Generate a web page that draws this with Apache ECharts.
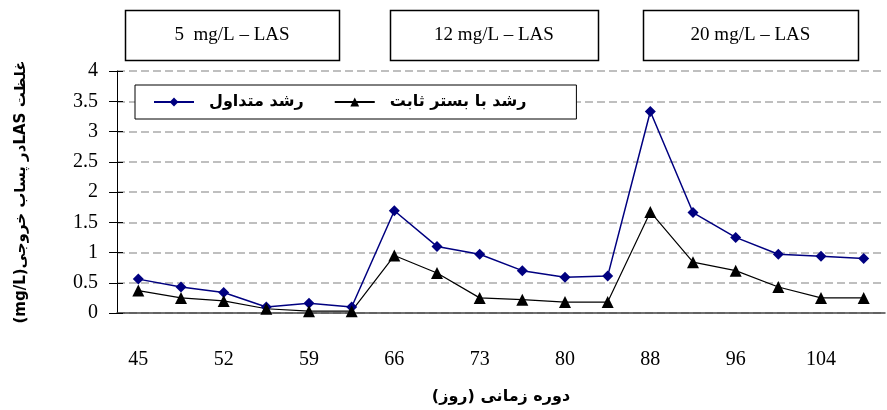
<!DOCTYPE html>
<html>
<head>
    <meta charset="utf-8">
    <title>LAS</title>
    <script src="https://cdn.jsdelivr.net/npm/echarts@6/dist/echarts.min.js" type="text/javascript" charset="utf-8"></script>
    <style>
        html, body { margin: 0; padding: 0; background: #fff; }
    </style>
</head>
<body>
<div id="div01" style="width: 887px;height: 410px;"></div>
</body>
<script type="text/javascript">

    // داده‌ها
    var days = ['45', '49', '52', '56', '59', '63', '66', '70', '73', '77', '80', '84', '88', '92', '96', '100', '104', '108'];
    var rosdMotadavel = [0.56, 0.43, 0.34, 0.10, 0.16, 0.10, 1.69, 1.10, 0.97, 0.70, 0.59, 0.61, 3.33, 1.66, 1.25, 0.97, 0.94, 0.90];
    var rosdBastarSabet = [0.37, 0.25, 0.20, 0.07, 0.03, 0.03, 0.95, 0.66, 0.25, 0.22, 0.18, 0.18, 1.67, 0.84, 0.70, 0.43, 0.25, 0.25];
    var seriesNames = ['رشد متداول', 'رشد با بستر ثابت'];
    var phaseLabels = ['5  mg/L – LAS', '12 mg/L – LAS', '20 mg/L – LAS'];

    var RLE = '\u202B', PDF = '\u202C';
    var serif = '"Liberation Serif", "DejaVu Serif", serif';
    var arabic = '"DejaVu Sans", sans-serif';

    var myChart = echarts.init(document.getElementById("div01"));

    // کادرهای بالای نمودار
    var boxes = [[125, 214], [390, 208], [643, 215]];
    var graphics = [];
    boxes.forEach(function (b, i) {
        graphics.push({
            type: 'rect',
            shape: {x: b[0] + 0.5, y: 10.5, width: b[1], height: 50},
            style: {fill: '#fff', stroke: '#000', lineWidth: 1.5}
        });
        graphics.push({
            type: 'text',
            x: b[0] + b[1] / 2,
            y: 35,
            style: {
                text: phaseLabels[i],
                font: '19px ' + serif,
                fill: '#000',
                align: 'center',
                verticalAlign: 'middle'
            }
        });
    });

    myChart.setOption({
        animation: false,
        graphic: graphics,
        legend: {
            data: seriesNames,
            left: 135,
            top: 85,
            orient: 'horizontal',
            itemWidth: 40,
            itemHeight: 11,
            itemGap: 30,
            padding: [9, 50, 9, 18],
            borderColor: '#000',
            borderWidth: 1,
            backgroundColor: '#fff',
            textStyle: {
                fontFamily: arabic,
                fontWeight: 'bold',
                fontSize: 16,
                color: '#000',
                padding: [0, 0, 0, 10]
            }
        },
        grid: {
            left: 117,
            right: 2,
            top: 71,
            bottom: 95
        },
        xAxis: {
            type: 'category',
            data: days,
            boundaryGap: true,
            name: RLE + 'دوره زمانی (روز)' + PDF,
            nameLocation: 'middle',
            nameGap: 76,
            nameTextStyle: {
                fontFamily: arabic,
                fontWeight: 'bold',
                fontSize: 16,
                color: '#000'
            },
            axisLine: {lineStyle: {color: '#444', width: 1.5}},
            axisTick: {show: false},
            axisLabel: {
                interval: 1,
                margin: 37,
                fontFamily: serif,
                fontSize: 20,
                color: '#000'
            },
            splitLine: {show: false}
        },
        yAxis: [{
            type: 'value',
            min: 0,
            max: 4,
            interval: 0.5,
            name: RLE + 'غلظت LASدر پساب خروجی(mg/L)' + PDF,
            nameLocation: 'middle',
            nameGap: 88,
            nameTextStyle: {
                fontFamily: arabic,
                fontWeight: 'bold',
                fontSize: 15,
                color: '#000'
            },
            axisLine: {show: true, lineStyle: {color: '#000', width: 1}},
            axisTick: {show: true, length: 8, lineStyle: {color: '#000'}},
            axisLabel: {
                margin: 19,
                fontFamily: serif,
                fontSize: 20,
                color: '#000',
                formatter: function (v) { return String(v); }
            },
            splitLine: {
                show: true,
                lineStyle: {color: '#aaa', width: 1.5, type: [8, 4]}
            }
        }, {
            type: 'value',
            min: 0,
            max: 4,
            interval: 0.5,
            position: 'left',
            axisLine: {show: false},
            axisTick: {show: true, inside: true, length: 6, lineStyle: {color: '#000'}},
            axisLabel: {show: false},
            splitLine: {show: false}
        }],
        series: [{
            name: seriesNames[0],
            type: 'line',
            data: rosdMotadavel,
            symbol: 'diamond',
            symbolSize: 11,
            lineStyle: {color: '#000080', width: 1.5},
            itemStyle: {color: '#000080'}
        }, {
            name: seriesNames[1],
            type: 'line',
            data: rosdBastarSabet,
            symbol: 'triangle',
            symbolSize: 12,
            lineStyle: {color: '#000', width: 1.2},
            itemStyle: {color: '#000'}
        }]
    });
</script>
</html>
